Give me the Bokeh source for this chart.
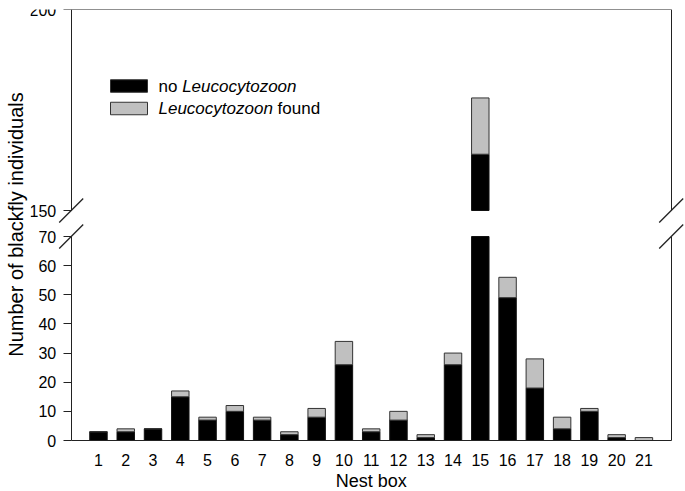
import math
from bokeh.plotting import figure
from bokeh.layouts import row, column
from bokeh.models import Range1d, LinearAxis, FixedTicker, ColumnDataSource
from bokeh.core.properties import value
from bokeh.embed import file_html
from bokeh.resources import INLINE

# ---- data ----
nest_box = [1, 2, 3, 4, 5, 6, 7, 8, 9, 10, 11, 12, 13, 14, 15, 16, 17, 18, 19, 20, 21]
no_leuco = [3, 3, 4, 15, 7, 10, 7, 2, 8, 26, 3, 7, 1, 26, 164, 49, 18, 4, 10, 1, 0]
leuco_found = [0, 1, 0, 2, 1, 2, 1, 1, 3, 8, 1, 3, 1, 4, 14, 7, 10, 4, 1, 1, 1]
lower_ticks = [0, 10, 20, 30, 40, 50, 60, 70]
upper_ticks = [150, 200]
x_title = "Nest box"
y_title = "Number of blackfly individuals"

# ---- layout constants (pixels) ----
FONT = "Liberation Sans"
AX = "#222222"
GREY = "#c0c0c0"
BAR_W = 0.64
X_LO, X_HI = 0, 22            # category axis extent
LOW_MAX, UP_MIN, UP_MAX = 70, 150, 200
LABEL_W = 30
FIG_W = 685 - LABEL_W
AX_LEFT_PX = 70.7             # page x of the left axis line
AX_RIGHT_PX = 670.7
PPX = (AX_RIGHT_PX - AX_LEFT_PX) / (X_HI - X_LO)
UP_TOP, UP_H = 9, 223         # upper figure: frame top, canvas height
UP_BREAK_PX = 210
LO_BREAK_PX, LO_BASE_PX = 236, 440
LO_H = 491 - UP_H
PPU_UP = (UP_BREAK_PX - UP_TOP) / (UP_MAX - UP_MIN)
PPU_LO = (LO_BASE_PX - LO_BREAK_PX) / LOW_MAX

x_range = Range1d(X_LO + (LABEL_W - AX_LEFT_PX) / PPX, X_HI + (685 - AX_RIGHT_PX) / PPX)

totals = [a + b for a, b in zip(no_leuco, leuco_found)]

# lower panel parts (clipped at the break)
lo_black = ColumnDataSource(dict(x=nest_box, b=[0] * len(nest_box),
                                 t=[min(v, LOW_MAX) for v in no_leuco]))
keep = [i for i in range(len(nest_box)) if no_leuco[i] < LOW_MAX]
lo_grey = ColumnDataSource(dict(x=[nest_box[i] for i in keep], b=[no_leuco[i] for i in keep],
                                t=[min(totals[i], LOW_MAX) for i in keep]))
# upper panel parts (only what rises above the break)
kb = [i for i in range(len(nest_box)) if no_leuco[i] > UP_MIN]
up_black = ColumnDataSource(dict(x=[nest_box[i] for i in kb], b=[UP_MIN] * len(kb),
                                 t=[no_leuco[i] for i in kb]))
kg = [i for i in range(len(nest_box)) if totals[i] > UP_MIN]
up_grey = ColumnDataSource(dict(x=[nest_box[i] for i in kg], b=[max(no_leuco[i], UP_MIN) for i in kg],
                                t=[totals[i] for i in kg]))


def left_axis(ticks, bounds):
    ax = LinearAxis(ticker=FixedTicker(ticks=ticks), fixed_location=X_LO, bounds=bounds)
    ax.axis_line_color = AX
    ax.major_tick_line_color = AX
    ax.major_tick_out = 8
    ax.major_tick_in = 0
    ax.minor_tick_line_color = None
    ax.major_label_text_font = FONT
    ax.major_label_text_font_size = "16px"
    ax.major_label_text_color = "#000000"
    ax.major_label_standoff = 7
    return ax


def blank_axis(loc, bounds):
    return LinearAxis(ticker=FixedTicker(ticks=[]), fixed_location=loc, bounds=bounds,
                      axis_line_color=AX, major_tick_line_color=None, minor_tick_line_color=None,
                      major_tick_out=0, major_label_standoff=0, major_label_text_font_size="0px")


def bars(p, black, grey):
    p.vbar(x="x", bottom="b", top="t", width=BAR_W, source=black,
           fill_color="#000000", line_color="#111111", line_width=1)
    p.vbar(x="x", bottom="b", top="t", width=BAR_W, source=grey,
           fill_color=GREY, line_color="#333333", line_width=1)


def breaks(p, yc, ppu):
    dx, dy = 12 / PPX, 12 / ppu
    p.segment(x0=[X_LO - dx, X_HI - dx], y0=[yc - dy, yc - dy],
              x1=[X_LO + dx, X_HI + dx], y1=[yc + dy, yc + dy],
              line_color=AX, line_width=1.3)


def px2x(px):
    return X_LO + (px - AX_LEFT_PX) / PPX


# ---- upper panel ----
up = figure(width=FIG_W, height=UP_H, x_range=x_range,
            y_range=Range1d(UP_MAX - (UP_H - UP_TOP) / PPU_UP, UP_MAX),
            output_backend="svg", toolbar_location=None,
            x_axis_location=None, y_axis_location=None,
            min_border_left=0, min_border_right=0, min_border_top=UP_TOP, min_border_bottom=0)
up.outline_line_color = None
up.grid.grid_line_color = None
up.add_layout(left_axis(upper_ticks, (UP_MIN, UP_MAX)), "left")
up.add_layout(blank_axis(X_HI, (UP_MIN, UP_MAX)), "right")
up.add_layout(blank_axis(UP_MAX, (X_LO, X_HI)), "above")
bars(up, up_black, up_grey)
breaks(up, UP_MIN, PPU_UP)

# legend (manual, so the genus name can be italic)
LEG_FS = 17
def py2y(py):
    return UP_MAX - (py - UP_TOP) / PPU_UP
row1, row2 = py2y(85.5), py2y(108)
up.rect(x=[px2x(128.5)] * 2, y=[row1, row2], width=37 / PPX, height=12.5 / PPU_UP,
        fill_color=["#000000", GREY], line_color="#333333", line_width=1)
tx = 158
w_no = (0.556 + 0.556 + 0.278) * LEG_FS
w_gen = 6.726 * LEG_FS
w_sp = 0.278 * LEG_FS
common = dict(text_font=value(FONT), text_font_size=f"{LEG_FS}px", text_baseline="middle",
              text_align="left", text_color="#000000")
up.text(x=[px2x(tx)], y=[row1], text=["no"], **common)
up.text(x=[px2x(tx + w_no)], y=[row1], text=["Leucocytozoon"], text_font_style="italic", **common)
up.text(x=[px2x(tx)], y=[row2], text=["Leucocytozoon"], text_font_style="italic", **common)
up.text(x=[px2x(tx + w_gen + w_sp)], y=[row2], text=["found"], **common)

# ---- lower panel ----
lo = figure(width=FIG_W, height=LO_H, x_range=x_range,
            y_range=Range1d(-(491 - LO_BASE_PX) / PPU_LO, LOW_MAX + (LO_BREAK_PX - UP_H) / PPU_LO),
            output_backend="svg", toolbar_location=None,
            x_axis_location=None, y_axis_location=None,
            min_border_left=0, min_border_right=0, min_border_top=0, min_border_bottom=0)
lo.outline_line_color = None
lo.grid.grid_line_color = None
lo.add_layout(left_axis(lower_ticks, (0, LOW_MAX)), "left")
lo.add_layout(blank_axis(X_HI, (0, LOW_MAX)), "right")
xb = LinearAxis(ticker=FixedTicker(ticks=nest_box), fixed_location=0, bounds=(X_LO, X_HI))
xb.axis_line_color = AX
xb.major_tick_line_color = None
xb.minor_tick_line_color = None
xb.major_tick_out = 0
xb.major_tick_in = 0
xb.major_label_text_font = FONT
xb.major_label_text_font_size = "16px"
xb.major_label_text_color = "#000000"
xb.major_label_standoff = 13
lo.add_layout(xb, "below")
bars(lo, lo_black, lo_grey)
breaks(lo, LOW_MAX, PPU_LO)
# x axis title
lo.text(x=[(X_LO + X_HI) / 2], y=[-(480 - LO_BASE_PX) / PPU_LO], text=[x_title],
        text_font=value(FONT), text_font_size="18px", text_align="center",
        text_baseline="middle", text_color="#000000")

# ---- y axis title (spans both panels) ----
lab = figure(width=LABEL_W, height=491, x_range=Range1d(0, LABEL_W), y_range=Range1d(0, 491),
             output_backend="svg", toolbar_location=None,
             x_axis_type=None, y_axis_type=None,
             min_border_left=0, min_border_right=0, min_border_top=0, min_border_bottom=0)
lab.outline_line_color = None
lab.grid.grid_line_color = None
lab.text(x=[15], y=[491 - 224], text=[y_title], angle=math.pi / 2,
         text_font=value(FONT), text_font_size="20px", text_align="center",
         text_baseline="middle", text_color="#000000")

layout = row(lab, column(up, lo, spacing=0), spacing=0)
open("out.html", "w").write(file_html(layout, INLINE))
